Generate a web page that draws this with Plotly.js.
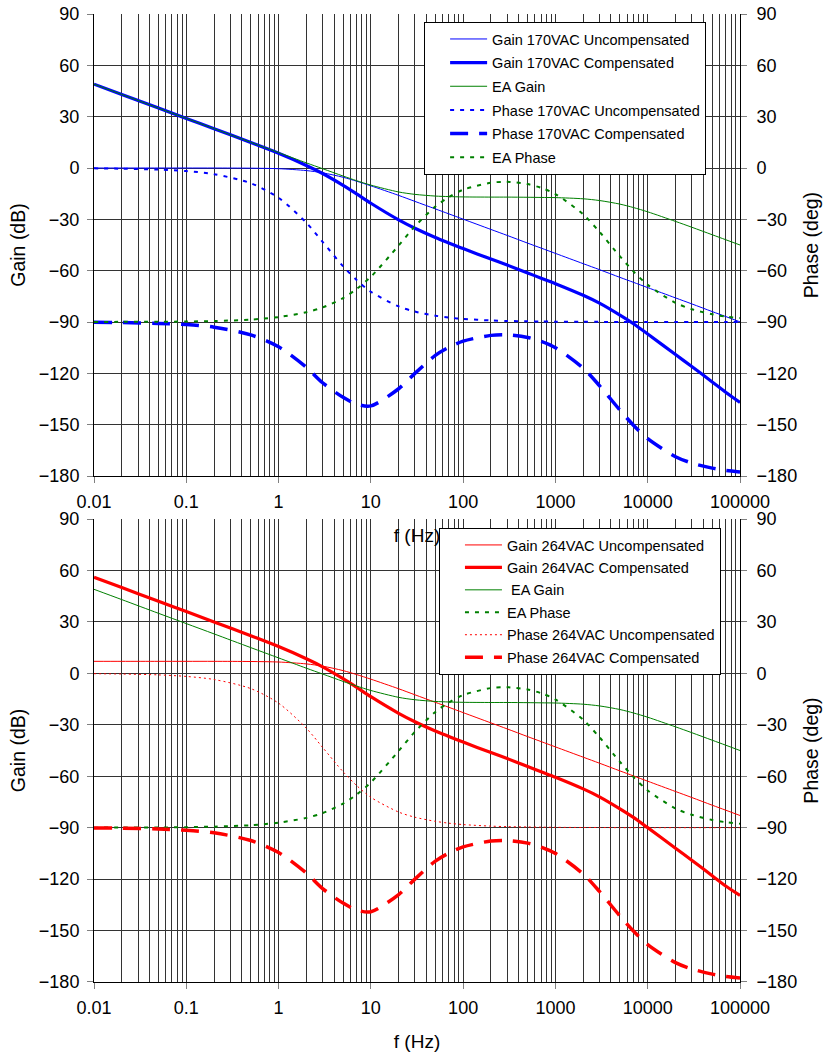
<!DOCTYPE html>
<html>
<head>
<meta charset="utf-8">
<script src="https://cdn.plot.ly/plotly-3.0.1.min.js"></script>
<style>html,body{margin:0;padding:0;background:#fff;}</style>
</head>
<body>
<div id="chart" style="width:825px;height:1057px;"></div>
<script>
// Frequency points (Hz)
const freq = [0.01,0.02,0.05,0.1,0.2,0.5,1,2,3,5,7,10,20,30,50,70,100,200,300,500,700,1000,2000,3000,5000,7000,10000,20000,30000,50000,70000,100000];

// Top chart: 170VAC
const gain170Uncomp = [0,0,0,0,0,-0.1,-0.4,-1.5,-2.8,-5.4,-7.7,-10.4,-16.0,-19.5,-23.9,-26.8,-29.9,-35.9,-39.4,-43.9,-46.8,-49.9,-55.9,-59.4,-63.9,-66.8,-69.9,-75.9,-79.4,-83.9,-86.8,-89.9];
const gain170Comp = [49.0,43.0,35.0,29.0,23.0,14.9,8.6,1.5,-3.2,-10.1,-15.1,-20.6,-30.3,-35.2,-40.6,-43.8,-47.1,-53.2,-56.7,-61.3,-64.4,-67.6,-74.4,-79.0,-86.0,-91.0,-97.0,-109.0,-116.0,-125.0,-131.0,-137.0];
const eaGain = [49.0,43.0,35.0,29.0,23.0,15.0,9.0,3.0,-0.4,-4.7,-7.4,-10.0,-14.0,-15.4,-16.4,-16.7,-16.9,-17.0,-17.0,-17.1,-17.2,-17.3,-18.0,-19.0,-21.1,-23.1,-25.6,-31.2,-34.6,-39.0,-41.9,-45.0];
const phase170Uncomp = [-0.2,-0.4,-0.9,-1.8,-3.6,-8.9,-17.4,-32.0,-43.2,-57.4,-65.4,-72.3,-80.9,-83.9,-86.3,-87.4,-88.2,-89.1,-89.4,-89.6,-89.7,-89.8,-89.9,-89.9,-90,-90,-90,-90,-90,-90,-90,-90];
const phase170Comp = [-90.2,-90.3,-90.8,-91.5,-93.0,-97.5,-104.5,-116.5,-125.5,-134.0,-138.0,-139.0,-129.0,-120.0,-109.5,-104.8,-101.2,-97.8,-97.5,-99.0,-101.3,-105.0,-117.0,-127.2,-141.5,-150.3,-158.2,-168.7,-172.4,-175.4,-176.7,-177.6];
const eaPhase = [-90.0,-89.9,-89.9,-89.7,-89.4,-88.6,-87.1,-84.3,-81.5,-76.0,-70.7,-63.6,-45.3,-34.1,-22.5,-17.0,-12.7,-8.6,-8.1,-9.4,-11.6,-15.2,-27.1,-37.3,-51.6,-60.4,-68.3,-78.8,-82.5,-85.5,-86.8,-87.7];

// Bottom chart: 264VAC
const gain264Uncomp = [7.0,7.0,7.0,7.0,7.0,6.9,6.6,5.5,4.2,1.6,-0.7,-3.4,-9.0,-12.5,-16.9,-19.8,-22.9,-28.9,-32.4,-36.9,-39.8,-42.9,-48.9,-52.4,-56.9,-59.8,-62.9,-68.9,-72.4,-76.9,-79.8,-82.9];
const gain264Comp = [56.0,50.0,42.0,36.0,30.0,21.9,15.6,8.5,3.8,-3.1,-8.1,-13.6,-23.3,-28.2,-33.6,-36.8,-40.1,-46.2,-49.7,-54.3,-57.4,-60.6,-67.4,-72.0,-79.0,-84.0,-90.0,-102.0,-109.0,-118.0,-124.0,-129.5];
const phase264Uncomp = [-0.2,-0.4,-0.9,-1.8,-3.6,-8.9,-17.4,-32.0,-43.2,-57.4,-65.4,-72.3,-80.9,-83.9,-86.3,-87.4,-88.2,-89.1,-89.4,-89.6,-89.7,-89.8,-89.9,-89.9,-90,-90,-90,-90,-90,-90,-90,-90];
const phase264Comp = [-90.2,-90.3,-90.8,-91.5,-93.0,-97.5,-104.5,-116.5,-125.5,-134.0,-138.0,-139.0,-129.0,-120.0,-109.5,-104.8,-101.2,-97.8,-97.5,-99.0,-101.3,-105.0,-117.0,-127.2,-141.5,-150.3,-158.2,-168.7,-172.4,-175.4,-176.7,-177.6];

const xTickVals = [0.01,0.1,1,10,100,1000,10000,100000];
const xTickText = ['0.01','0.1','1','10','100','1000','10000','100000'];

const BLUE = '#0000ff', GREEN = '#008000', RED = '#ff0000';
const FONT = 'Liberation Sans, Arial, sans-serif';

function tr(name, y, color, width, dash, xa, ya, legend, grp) {
  return {
    type: 'scatter', mode: 'lines', name: name, x: freq, y: y,
    xaxis: xa, yaxis: ya, legend: legend, legendgroup: grp,
    line: {color: color, width: width, dash: dash, shape: 'spline', smoothing: 0.8}
  };
}

const traces = [
  tr('Gain 170VAC Uncompensated', gain170Uncomp, BLUE, 1, 'solid', 'x', 'y', 'legend', 'a1'),
  tr('Gain 170VAC Compensated', gain170Comp, BLUE, 3.2, 'solid', 'x', 'y', 'legend', 'a2'),
  tr('EA Gain', eaGain, GREEN, 1, 'solid', 'x', 'y', 'legend', 'a3'),
  tr('Phase 170VAC Uncompensated', phase170Uncomp, BLUE, 2, '4px,6px', 'x', 'y2', 'legend', 'a4'),
  tr('Phase 170VAC Compensated', phase170Comp, BLUE, 3.5, '18px,11px', 'x', 'y2', 'legend', 'a5'),
  tr('EA Phase', eaPhase, GREEN, 2, '4px,6px', 'x', 'y2', 'legend', 'a6'),

  tr('Gain 264VAC Uncompensated', gain264Uncomp, RED, 1, 'solid', 'x2', 'y3', 'legend2', 'b1'),
  tr('Gain 264VAC Compensated', gain264Comp, RED, 3.2, 'solid', 'x2', 'y3', 'legend2', 'b2'),
  tr(' EA Gain', eaGain, GREEN, 1, 'solid', 'x2', 'y3', 'legend2', 'b3'),
  tr('EA Phase', eaPhase, GREEN, 2, '4px,6px', 'x2', 'y4', 'legend2', 'b4'),
  tr('Phase 264VAC Uncompensated', phase264Uncomp, RED, 1, '2px,3px', 'x2', 'y4', 'legend2', 'b5'),
  tr('Phase 264VAC Compensated', phase264Comp, RED, 3.5, '18px,11px', 'x2', 'y4', 'legend2', 'b6')
];

const GRID = '#333333';
function xAxis(anchor) {
  return {
    type: 'log', range: [-2, 5], anchor: anchor, domain: [0, 1],
    tickmode: 'array', tickvals: xTickVals, ticktext: xTickText,
    ticks: 'outside', ticklen: 6, tickcolor: '#808080',
    ticklabelstandoff: 3,
    showgrid: true, gridcolor: GRID, gridwidth: 1,
    minor: {dtick: 'D1', showgrid: true, gridcolor: GRID, gridwidth: 1, ticks: ''},
    showline: true, linecolor: '#000', linewidth: 1,
    zeroline: false,
    tickfont: {size: 18, family: FONT, color: '#000'},
    title: {text: 'f (Hz)', font: {size: 19, family: FONT, color: '#000'}, standoff: 18}
  };
}
function yLeft(domain, anchor) {
  return {
    range: [-180, 90], dtick: 30, tick0: 0, domain: domain, anchor: anchor,
    ticks: 'outside', ticklen: 6, tickcolor: '#808080', ticklabelstandoff: 4,
    showgrid: true, gridcolor: GRID, gridwidth: 1,
    showline: true, linecolor: '#000', linewidth: 1, zeroline: false,
    tickfont: {size: 18, family: FONT, color: '#000'},
    title: {text: 'Gain (dB)', font: {size: 19.5, family: FONT, color: '#000'}, standoff: 8}
  };
}
function yRight(over, anchor) {
  return {
    range: [-180, 90], dtick: 30, tick0: 0, overlaying: over, side: 'right', anchor: anchor,
    ticks: 'outside', ticklen: 6, tickcolor: '#808080', ticklabelstandoff: 6,
    showgrid: false, showline: true, linecolor: '#000', linewidth: 1, zeroline: false,
    tickfont: {size: 18, family: FONT, color: '#000'},
    title: {text: 'Phase (deg)', font: {size: 19.5, family: FONT, color: '#000'}, standoff: 8}
  };
}

const legendStyle = {
  bgcolor: '#fff', bordercolor: '#000', borderwidth: 1,
  font: {size: 14.5, family: FONT, color: '#000'},
  xanchor: 'left', yanchor: 'top', traceorder: 'grouped',
  indentation: 20, itemwidth: 37
};

const layout = {
  width: 825, height: 1057,
  margin: {l: 94, r: 85, t: 14, b: 75},
  paper_bgcolor: '#fff', plot_bgcolor: '#fff',
  font: {family: FONT, size: 18, color: '#000'},
  showlegend: true,
  xaxis: xAxis('y'),
  xaxis2: xAxis('y3'),
  yaxis: yLeft([0.5227, 1], 'x'),
  yaxis2: yRight('y', 'x'),
  yaxis3: yLeft([0, 0.4783], 'x2'),
  yaxis4: yRight('y3', 'x2'),
  legend: Object.assign({}, legendStyle, {x: 0.511, y: 0.9917, tracegroupgap: 1.8}),
  legend2: Object.assign({}, legendStyle, {x: 0.534, y: 0.469, tracegroupgap: 0.6})
};

Plotly.newPlot('chart', traces, layout, {displayModeBar: false, staticPlot: true});
</script>
</body>
</html>
